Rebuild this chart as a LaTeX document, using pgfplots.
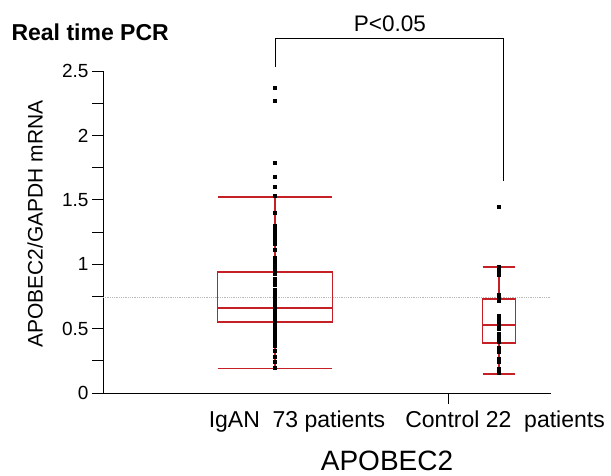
\documentclass[border=0pt]{standalone}
\usepackage{fontspec}
\setmainfont{Liberation Sans}
\usepackage{pgfplots}
\pgfplotsset{compat=1.18}
\usepgfplotslibrary{statistics}

\definecolor{boxred}{RGB}{196,32,38}

\begin{document}
\begin{tikzpicture}
\useasboundingbox (0,0) rectangle (611pt,476pt);
\begin{axis}[
    at={(103pt,83pt)}, anchor=south west,
    scale only axis, width=448pt, height=322pt,
    xmin=0.232, xmax=2.232, ymin=0, ymax=2.5,
    axis lines=left,
    axis line style={-, line width=0.9pt},
    clip=false,
    xtick={1.772}, xticklabels={},
    ytick={0,0.5,1,1.5,2,2.5},
    yticklabels={0,0.5,1,1.5,2,2.5},
    minor ytick={0.25,0.75,1.25,1.75,2.25},
    tick align=outside,
    major tick length=11pt, minor tick length=11pt,
    tick style={line width=0.9pt, black},
    /pgf/number format/assume math mode=true,
    ticklabel style={font=\fontsize{19}{19}\selectfont},
    boxplot/draw direction=y,
  ]
  % reference line
  \addplot[gray!55, densely dotted, line width=0.8pt] coordinates {(0.232,0.745) (2.232,0.745)};

  % boxes
  \addplot[boxred, line width=1.7pt, boxplot prepared={
      draw position=1, lower whisker=0.19, lower quartile=0.55,
      median=0.66, upper quartile=0.94, upper whisker=1.52,
      box extend=0.513, whisker extend=0.513}] coordinates {};
  \addplot[boxred, line width=1.7pt, boxplot prepared={
      draw position=2, lower whisker=0.15, lower quartile=0.39,
      median=0.53, upper quartile=0.73, upper whisker=0.98,
      box extend=0.147, whisker extend=0.147}] coordinates {};

  % IgAN, 73 patients
  \addplot[only marks, mark=square*, mark size=1.5pt, black] coordinates {
    (1,2.37) (1,2.27) (1,1.79) (1,1.68) (1,1.60) (1,1.53) (1,1.40) (1,1.30)
    (1,1.28) (1,1.25) (1,1.22) (1,1.19) (1,1.16) (1,1.11) (1,1.05) (1,1.02)
    (1,0.99) (1,0.96)
    (1,0.93) (1,0.89) (1,0.86) (1,0.84) (1,0.80) (1,0.78) (1,0.77) (1,0.76)
    (1,0.75) (1,0.74) (1,0.73) (1,0.72) (1,0.71) (1,0.70) (1,0.69) (1,0.68)
    (1,0.67) (1,0.665)
    (1,0.66)
    (1,0.655) (1,0.65) (1,0.645) (1,0.64) (1,0.63) (1,0.62) (1,0.615) (1,0.61)
    (1,0.60) (1,0.595) (1,0.59) (1,0.58) (1,0.575) (1,0.57) (1,0.565) (1,0.56)
    (1,0.555) (1,0.55)
    (1,0.54) (1,0.53) (1,0.52) (1,0.51) (1,0.50) (1,0.49) (1,0.48) (1,0.47)
    (1,0.46) (1,0.45) (1,0.43) (1,0.41) (1,0.39) (1,0.37) (1,0.33) (1,0.28)
    (1,0.24) (1,0.20)
  };
  % Control, 22 patients
  \addplot[only marks, mark=square*, mark size=1.5pt, black] coordinates {
    (2,1.45) (2,0.98) (2,0.96) (2,0.94) (2,0.92) (2,0.76) (2,0.74) (2,0.72)
    (2,0.60) (2,0.57) (2,0.55) (2,0.52) (2,0.50) (2,0.46) (2,0.43) (2,0.40)
    (2,0.35) (2,0.32) (2,0.27) (2,0.24) (2,0.19) (2,0.16)
  };

  % significance bracket
  \addplot[black, line width=0.7pt] coordinates {(1,2.53) (1,2.756) (2.018,2.756) (2.018,1.646)};
  \node[font=\fontsize{22.5}{22.5}\selectfont] at (axis cs:1.513,2.87) {P<0.05};

  \node[anchor=west, font=\fontsize{23}{23}\selectfont\bfseries] at (axis cs:-0.192,2.80) {Real time PCR};
  \node[rotate=90, font=\fontsize{21}{21}\selectfont] at (axis cs:-0.071,1.31) {APOBEC2/GAPDH mRNA};

  \node[font=\fontsize{23}{23}\selectfont] at (axis cs:1.098,-0.225) {IgAN\ \ 73 patients};
  \node[font=\fontsize{23}{23}\selectfont] at (axis cs:2.027,-0.225) {Control 22\ \ patients};
  \node[font=\fontsize{28}{28}\selectfont] at (axis cs:1.50,-0.53) {APOBEC2};
\end{axis}
\end{tikzpicture}
\end{document}
